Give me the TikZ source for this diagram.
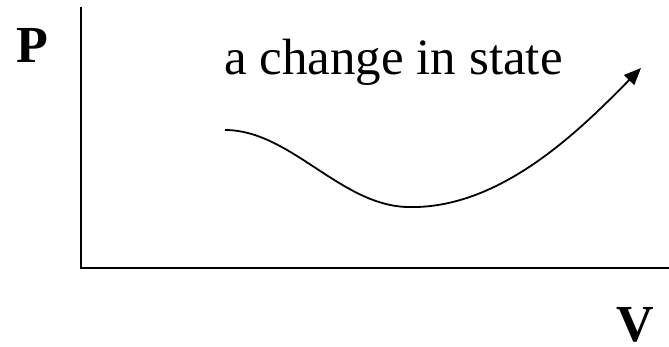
\documentclass[tikz,border=0pt]{standalone}
\usepackage{fontspec}
\setmainfont{Liberation Serif}
\usetikzlibrary{arrows.meta}
\begin{document}
\begin{tikzpicture}[x=1pt,y=-1pt,
  axis/.style={line width=2pt},
  curve/.style={line width=1.8pt,-{Triangle[length=17pt,width=14pt]}},
  lbl/.style={inner sep=0pt,anchor=base,font=\fontsize{52}{60}\selectfont\bfseries},
  txt/.style={inner sep=0pt,font=\fontsize{51}{60}\selectfont}]
\useasboundingbox (0,0) rectangle (669,347);
\coordinate (top) at (80.5,7);
\coordinate (org) at (80.5,268.5);
\coordinate (right) at (669,268.5);
\draw[axis] (top) -- (org) -- (right);
\node[lbl] (P) at (32.5,63) {P};
\node[lbl] (V) at (635.5,341) {V};
\node[txt,anchor=base west] (t) at (224,75) {a change in state};
\coordinate (s) at (225,130);
\coordinate (m) at (407,207);
\coordinate (e) at (641,68);
\draw[curve] (s) .. controls (290,130) and (340,205) .. (m)
  .. controls (500,210) and (580,130) .. (e);
\end{tikzpicture}
\end{document}
